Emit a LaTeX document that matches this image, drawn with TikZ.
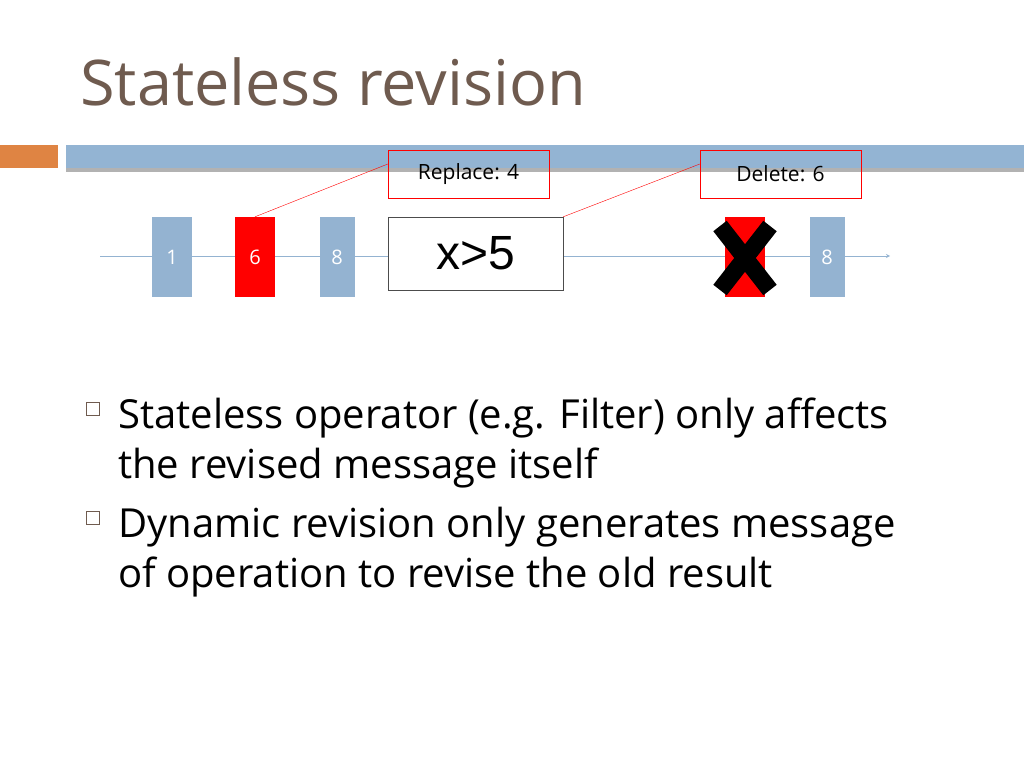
\documentclass[tikz,border=0pt]{standalone}
\usepackage{fontspec}
\setmainfont{Open Sans}
\newfontfamily\arialish{Liberation Sans}
\definecolor{titlebrown}{HTML}{6F5B4F}
\definecolor{barblue}{HTML}{93B4D3}
\definecolor{barorange}{HTML}{DF8443}
\definecolor{msgblue}{HTML}{94B3D1}
\tikzset{
    msg/.style={minimum width=40pt,minimum height=80pt,inner sep=0pt,fill=msgblue,
        text=white,font=\fontsize{20}{24}\selectfont},
    hit/.style={msg,fill=red},
    note/.style={draw=red,minimum width=161pt,minimum height=48pt,inner sep=0pt,
        font=\fontsize{21}{25}\selectfont},
    bullet/.style={anchor=base west,font=\fontsize{40}{48}\selectfont,text=black}
}
\begin{document}
\begin{tikzpicture}[x=1pt,y=-1pt]
    \useasboundingbox (0,0) rectangle (1024,768);
    \node[anchor=base west,inner sep=0pt,text=titlebrown,font=\fontsize{63}{72}\selectfont] (title) at (80,105) {Stateless revision};
    % header bar
    \fill[gray!60] (66,168) rectangle (1024,172);
    \fill[barorange] (0,145) rectangle (58,168);
    \fill[barblue] (66,145) rectangle (1024,168);
    % stream
    \coordinate (s0) at (100,256);
    \coordinate (s1) at (890,256);
    \draw[msgblue,thick,-stealth] (s0) -- (s1);
    \node[msg] (m1) at (172,257) {1};
    \node[hit] (m2) at (255,257) {6};
    \node[msg,minimum width=35pt] (m3) at (337,257) {8};
    \node[draw=black!70,fill=white,minimum width=175pt,minimum height=73pt,inner sep=0pt,
        font=\fontsize{48}{56}\selectfont\arialish] (op) at (475.5,253.5) {x>5};
    \node[hit] (m4) at (745,257) {};
    \node[msg,minimum width=35pt] (m5) at (827,257) {8};
    \draw[line width=17pt] (720,226) -- (770,290);
    \draw[line width=17pt] (770,226) -- (720,290);
    % notes
    \node[note] (rep) at (468.5,174) {Replace: 4};
    \node[note] (del) at (780.5,174) {Delete: 6};
    \draw[red] (m2.north) -- ([yshift=10pt]rep.west);
    \draw[red] (op.north east) -- ([yshift=10pt]del.west);
    % bullets
    \foreach \y/\t in {428/{Stateless operator (e.g. Filter) only affects},
                       478/{the revised message itself},
                       537/{Dynamic revision only generates message},
                       587/{of operation to revise the old result}}
        \node[bullet,inner sep=0pt] at (118,\y) {\t};
    \draw[titlebrown,thin] (86,402) rectangle (99,415);
    \draw[titlebrown,thin] (86,511) rectangle (99,524);
\end{tikzpicture}
\end{document}
